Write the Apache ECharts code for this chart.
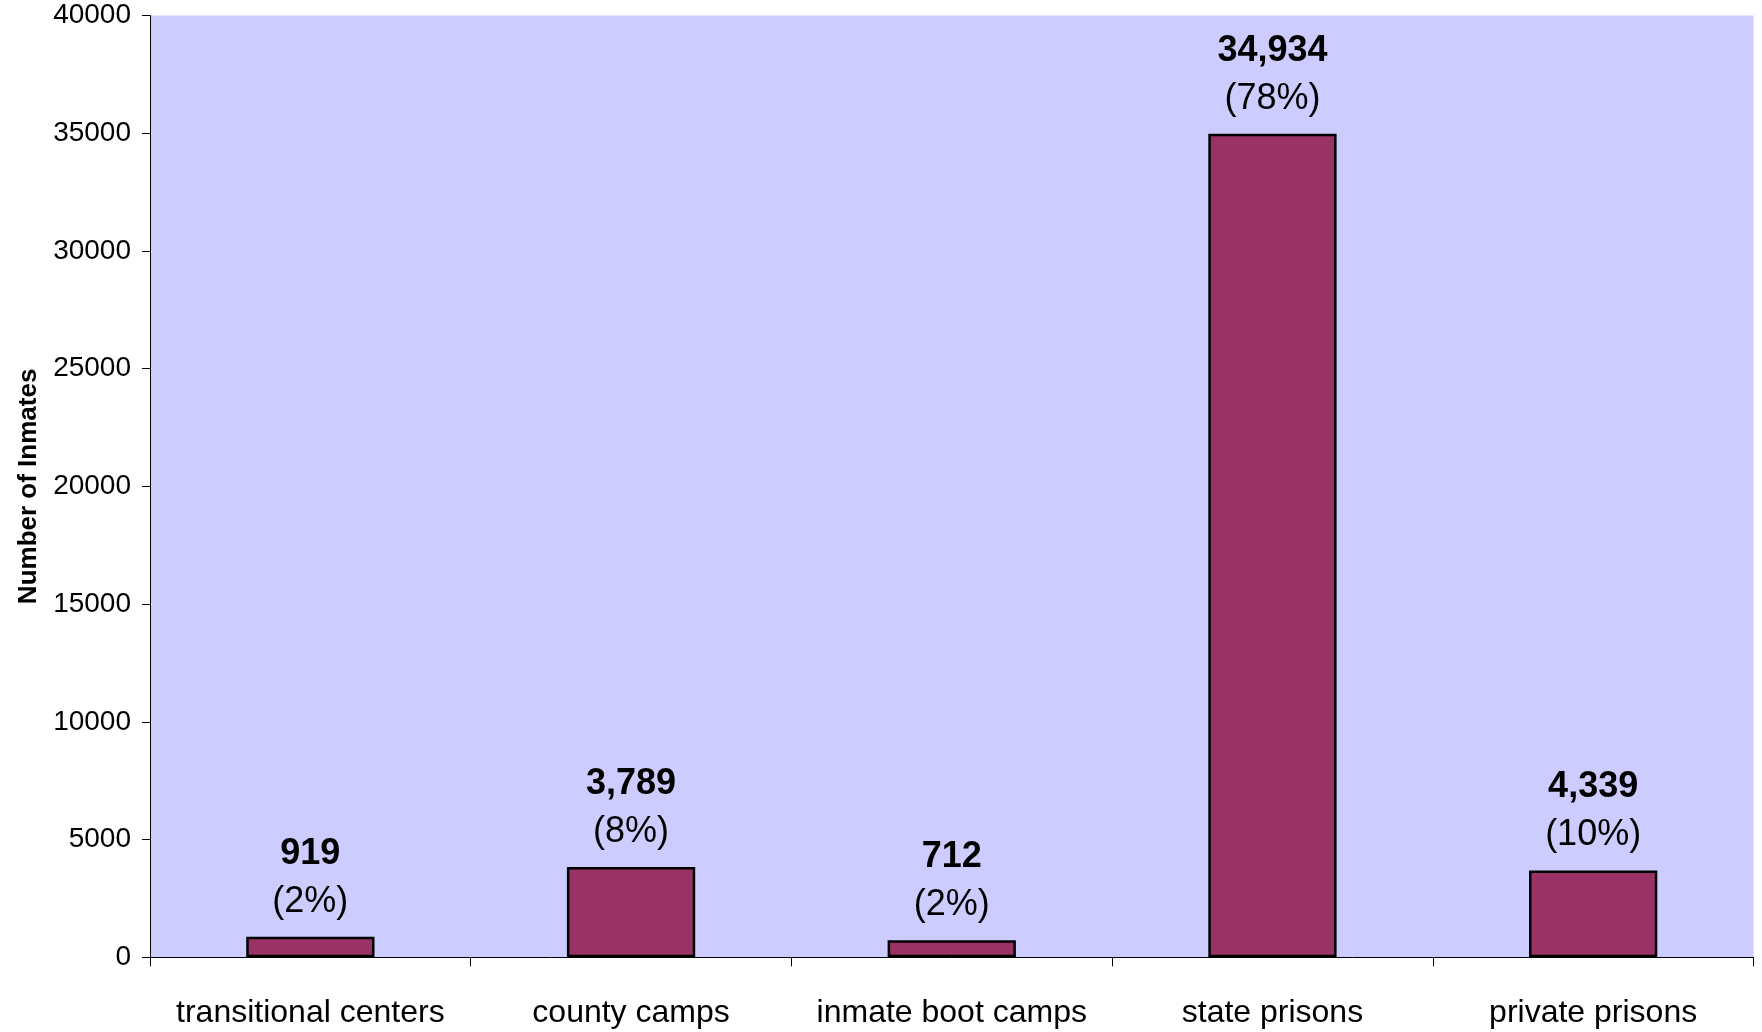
<!DOCTYPE html>
<html>
<head>
<meta charset="utf-8">
<script src="https://cdn.jsdelivr.net/npm/echarts@6/dist/echarts.min.js"></script>
<style>
html,body{margin:0;padding:0;background:#fff;}
#chart{width:1762px;height:1032px;}
</style>
</head>
<body>
<div id="chart"></div>
<script>
var categories = ['transitional centers', 'county camps', 'inmate boot camps', 'state prisons', 'private prisons'];
var barValues = [870, 3840, 720, 34980, 3690];
var countLabels = ['919', '3,789', '712', '34,934', '4,339'];
var pctLabels = ['(2%)', '(8%)', '(2%)', '(78%)', '(10%)'];
var yMin = 0, yMax = 40000, yStep = 5000;

var chart = echarts.init(document.getElementById('chart'));
var FONT = '"Liberation Sans", Arial, sans-serif';
chart.setOption({
  animation: false,
  textStyle: { fontFamily: FONT },
  grid: {
    left: 150, right: 8.5, top: 15.5, bottom: 74.7,
    show: true, backgroundColor: '#ccccff', borderWidth: 0
  },
  xAxis: {
    type: 'category',
    data: categories,
    boundaryGap: true,
    axisLine: { lineStyle: { color: '#000', width: 1 } },
    axisTick: { show: true, length: 9, lineStyle: { color: '#000', width: 1 } },
    axisLabel: { color: '#000', fontSize: 32, fontFamily: FONT, margin: 40, interval: 0 }
  },
  yAxis: {
    type: 'value',
    min: yMin, max: yMax, interval: yStep,
    name: 'Number of Inmates',
    nameLocation: 'middle',
    nameGap: 108,
    nameTextStyle: { color: '#000', fontSize: 26, fontWeight: 'bold', fontFamily: FONT },
    axisLine: { show: true, lineStyle: { color: '#000', width: 1 } },
    axisTick: { show: true, length: 8, lineStyle: { color: '#000', width: 1 } },
    splitLine: { show: false },
    axisLabel: {
      color: '#000', fontSize: 28, fontFamily: FONT, margin: 19,
      formatter: function (v) { return String(v); }
    }
  },
  series: [{
    type: 'bar',
    data: barValues,
    barWidth: '40%',
    itemStyle: { color: '#993366', borderColor: '#000', borderWidth: 2.5 },
    label: {
      show: true,
      position: 'top',
      distance: 11,
      formatter: function (p) {
        return '{a|' + countLabels[p.dataIndex] + '}\n{b|' + pctLabels[p.dataIndex] + '}';
      },
      rich: {
        a: { fontSize: 36, fontWeight: 'bold', color: '#000', lineHeight: 48, fontFamily: FONT },
        b: { fontSize: 36, color: '#000', lineHeight: 48, fontFamily: FONT }
      }
    }
  }]
});
</script>
</body>
</html>
